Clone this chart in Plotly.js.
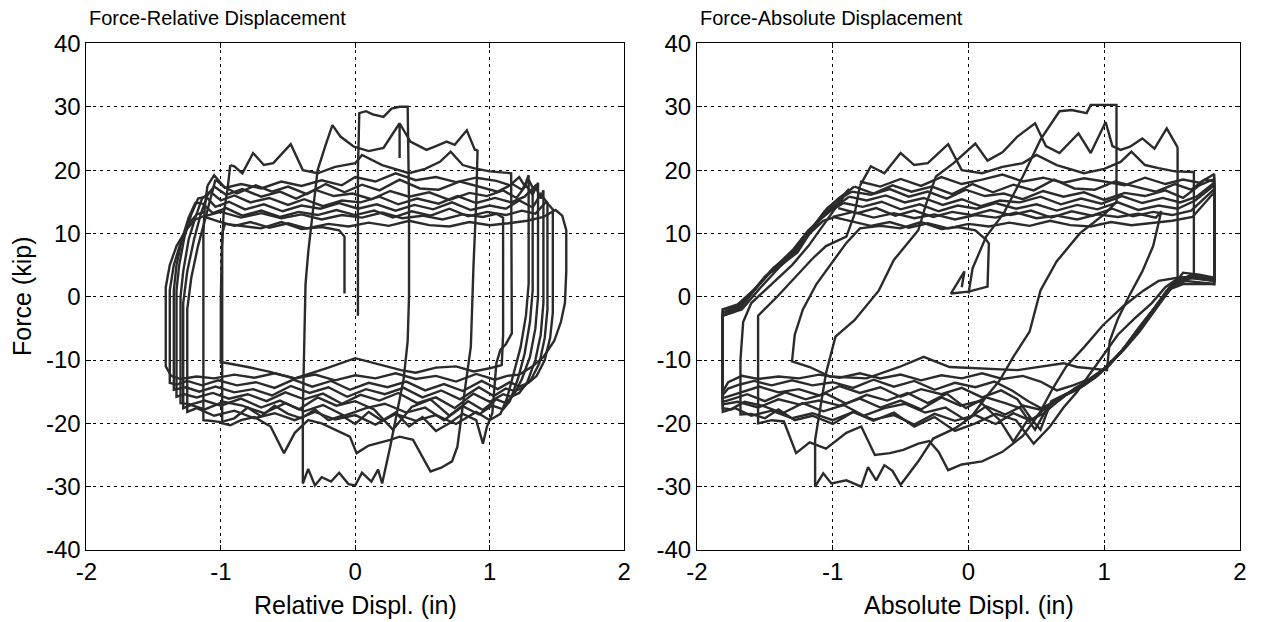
<!DOCTYPE html>
<html><head><meta charset="utf-8">
<script src="https://cdn.plot.ly/plotly-3.0.1.min.js"></script>
<style>html,body{margin:0;padding:0;background:#fff}#chart{width:1262px;height:622px}</style>
</head><body><div id="chart"></div><script>
// ---------- tick labels ----------
const xTickVals = [-2, -1, 0, 1, 2];
const xTickText = ['-2', '-1', '0', '1', '2'];
const yTickVals = [-40, -30, -20, -10, 0, 10, 20, 30, 40];
const yTickText = ['-40', '-30', '-20', '-10', '0', '10', '20', '30', '40'];

// ---------- Force vs Relative displacement (in, kip) ----------
const relD_a = [0.02,0.02,0.02,0.03,0.08,0.13,0.21,0.27,0.33,0.39,0.40,0.40,0.39,0.36,0.31,0.26,0.20,0.17,0.12,0.05,0.00,-0.05,-0.12,-0.18,-0.25,-0.30,-0.35,-0.39,-0.39,-0.38,-0.37,-0.35,-0.32,-0.28,-0.22,-0.17,-0.11,-0.01,0.10,0.21,0.33,0.33,0.33,0.41,0.53,0.60,0.68,0.74,0.83,0.89,0.91];
const relF_a = [-3,8,20,29,29.3,28.8,28.4,29.7,30,30,15,0,-7,-13,-18.4,-23.7,-29.5,-27.3,-29.2,-27.8,-29.8,-29.6,-27.8,-29.2,-28.5,-29.8,-27.2,-29.5,-18,-5,2,7,13,20,24,27.1,25.3,23.7,23,23.5,27.4,21.9,27.4,24.5,23.2,23.8,24.5,24,26.3,23.2,23.2];

const relD_b = [0.91,0.90,0.88,0.86,0.82,0.79,0.76,0.72,0.64,0.56,0.43,0.33,0.26,0.10,0.01,-0.04,-0.15,-0.25,-0.35,-0.45,-0.53,-0.63,-0.75,-0.85,-0.93,-0.99,-0.99,-0.99,-0.98,-0.95,-0.93];
const relF_b = [23.2,15,5,-7.9,-14,-19,-23.7,-26,-27,-27.6,-22.6,-22.1,-22.6,-23.5,-24.7,-22.1,-21,-20,-19.5,-21.5,-24.7,-20.5,-19,-19.5,-20.3,-20,-5,8,13,17,20.8];

const relD_c = [-0.93,-0.90,-0.84,-0.76,-0.68,-0.61,-0.48,-0.39,-0.28,-0.15,0.00,0.05,0.20,0.40,0.52,0.63,0.71,0.80,0.88,1.00,1.16,1.165,1.165,1.12,1.08,1.05,1.02,0.98,0.95,0.90,0.80,0.70,0.60,0.50,0.40,0.30,0.20,0.10,0.00,-0.10,-0.20,-0.30,-0.40,-0.50,-0.60,-0.70,-0.80,-0.90,-1.00,-1.08,-1.13,-1.13,-1.13,-1.12,-1.10];
const relF_c = [20.8,20.6,19.5,22.7,20.8,21.1,24.1,20,19.5,20.5,21.1,22.4,20.8,19.5,20.2,21.3,22.9,20.8,20.3,19.8,19.5,5,-5.8,-7.5,-8.4,-10.5,-18.4,-20.5,-23.2,-19.5,-18.5,-20,-21.2,-19,-20.5,-18.3,-19.6,-18.2,-20.1,-18.8,-19.5,-17.8,-19.2,-18.5,-17.2,-18.9,-17.5,-19.2,-19.8,-19.6,-19.5,0,10,14,17.5];

const relD_g1 = [-1.10,-1.05,-0.97,-0.85,-0.70,-0.55,-0.40,-0.25,-0.10,0.00,0.15,0.30,0.45,0.60,0.75,0.90,1.05,1.15,1.22,1.26,1.29,1.29,1.29,1.27,1.23,1.18,1.13,1.08,1.00,0.90,0.75,0.60,0.45,0.30,0.15,0.00,-0.15,-0.30,-0.45,-0.60,-0.75,-0.90,-1.05,-1.18,-1.25,-1.25,-1.25,-1.22,-1.17,-1.12,-1.08,-1.04];
const relF_g1 = [17.5,19.2,17.2,17.8,17.1,18.2,17.5,18.4,17.6,18.9,18.2,19.5,18.4,18.9,18.1,18.8,18.3,17.6,18.9,17.5,19.2,10,2,-3,-8,-12,-16,-18.5,-19.5,-18.2,-20.1,-18.7,-19.6,-18.5,-20.2,-18.7,-19.4,-18.2,-19.5,-18.4,-19.2,-18,-18.8,-17.6,-18.2,-10,-2,3,8,12,15.5,18.5];

const relD_g2 = [-1.04,-0.98,-0.88,-0.74,-0.62,-0.50,-0.36,-0.22,-0.08,0.05,0.18,0.33,0.48,0.62,0.78,0.92,1.06,1.17,1.24,1.29,1.32,1.32,1.32,1.30,1.26,1.21,1.15,1.10,1.02,0.92,0.80,0.66,0.52,0.38,0.22,0.08,-0.08,-0.24,-0.38,-0.52,-0.68,-0.84,-0.98,-1.12,-1.22,-1.28,-1.28,-1.28,-1.25,-1.20,-1.15,-1.10,-1.05];
const relF_g2 = [18.5,17.4,16.3,17.6,16.6,17.4,16.2,17.8,16.5,17.7,16.8,18.5,17.1,16.9,18.2,17.4,16.6,17.8,16.9,18.5,17.2,9,1,-4,-9,-13,-16.5,-17.8,-17.2,-18.6,-17.3,-19.5,-17.5,-18.3,-16.9,-17.6,-18.8,-17.1,-18.1,-16.8,-18.4,-17.2,-16.6,-17.8,-17.1,-17.6,-9,-1,4,9,13,16,17.4];

const relD_g3 = [-1.05,-0.96,-0.84,-0.70,-0.56,-0.44,-0.30,-0.16,-0.02,0.12,0.26,0.40,0.55,0.70,0.85,0.98,1.10,1.20,1.27,1.32,1.36,1.36,1.36,1.34,1.30,1.24,1.18,1.12,1.05,0.95,0.84,0.70,0.56,0.42,0.28,0.14,0.00,-0.14,-0.28,-0.42,-0.56,-0.70,-0.85,-1.00,-1.12,-1.22,-1.30,-1.30,-1.30,-1.28,-1.24,-1.19,-1.14,-1.08];
const relF_g3 = [17.4,16.1,17.0,15.8,16.6,15.5,16.9,15.9,16.3,15.4,16.7,15.8,16.5,15.3,16.4,15.9,16.8,15.6,17.6,16.1,18.0,8,0,-5,-9.5,-13,-15.5,-16.8,-16.2,-17.9,-16.5,-18.8,-16.2,-17.4,-21.0,-17.8,-16.5,-17.2,-15.9,-17.8,-16.4,-17.5,-16.1,-17.2,-16.4,-17.0,-16.8,-8,0,4,9,12.5,15.5,16.6];

const relD_g4 = [-1.08,-1.00,-0.90,-0.78,-0.64,-0.50,-0.38,-0.24,-0.10,0.04,0.18,0.32,0.46,0.62,0.76,0.90,1.04,1.16,1.26,1.34,1.38,1.40,1.40,1.40,1.38,1.34,1.28,1.22,1.16,1.10,1.00,0.88,0.74,0.60,0.46,0.32,0.18,0.04,-0.10,-0.24,-0.38,-0.52,-0.66,-0.80,-0.94,-1.06,-1.18,-1.27,-1.33,-1.33,-1.33,-1.31,-1.27,-1.22,-1.17,-1.11];
const relF_g4 = [16.6,15.2,16.0,14.9,15.6,14.5,15.4,14.3,15.2,14.9,15.8,14.6,15.5,14.7,15.9,14.8,15.6,14.9,15.8,17.5,15.5,16.8,7,-1,-6,-10,-13.5,-15.2,-15.8,-15.4,-16.6,-15.3,-17.6,-15.9,-16.8,-15.2,-16.4,-15.5,-16.9,-15.3,-16.2,-15.1,-16.5,-15.4,-16.1,-15.2,-15.9,-15.4,-15.8,-7,1,5,9.5,13,15.5,15.8];

const relD_g5 = [-1.11,-1.04,-0.94,-0.82,-0.68,-0.54,-0.40,-0.26,-0.12,0.02,0.16,0.30,0.44,0.58,0.72,0.86,1.00,1.12,1.22,1.32,1.38,1.43,1.43,1.43,1.41,1.37,1.31,1.25,1.19,1.12,1.03,0.92,0.78,0.64,0.50,0.36,0.22,0.08,-0.06,-0.20,-0.34,-0.48,-0.62,-0.76,-0.90,-1.04,-1.16,-1.26,-1.35,-1.35,-1.35,-1.33,-1.29,-1.24,-1.19,-1.14];
const relF_g5 = [15.8,14.2,15.0,13.8,14.6,13.5,14.4,13.9,14.8,13.9,14.6,13.6,14.5,13.8,14.9,13.7,14.4,13.9,15.2,14.1,16.2,14.8,6,-2,-6.5,-10.5,-13,-14.3,-14.9,-14.5,-15.7,-14.3,-16.2,-14.8,-15.9,-14.4,-15.4,-14.6,-15.8,-14.3,-15.2,-14.1,-15.6,-14.6,-15.1,-14.2,-15.0,-14.3,-14.7,-6,1,5,9,12.5,14.8,14.8];

const relD_g6 = [-1.14,-1.06,-0.96,-0.84,-0.70,-0.56,-0.42,-0.28,-0.14,0.00,0.14,0.28,0.42,0.56,0.70,0.84,0.98,1.12,1.24,1.34,1.42,1.47,1.47,1.47,1.45,1.41,1.35,1.29,1.22,1.15,1.06,0.94,0.80,0.66,0.52,0.38,0.24,0.10,-0.04,-0.18,-0.32,-0.46,-0.60,-0.74,-0.88,-1.02,-1.14,-1.25,-1.33,-1.38,-1.38,-1.38,-1.35,-1.30,-1.24,-1.18,-1.12];
const relF_g6 = [14.8,13.2,14.0,12.8,13.6,12.6,13.4,12.9,13.7,12.9,13.6,12.5,13.5,12.8,13.9,12.7,13.4,12.9,13.6,13.1,15.0,13.8,5,-2.5,-6.5,-10,-12.5,-13.6,-14.2,-13.5,-14.6,-13.3,-14.9,-13.8,-14.8,-13.4,-14.3,-13.6,-14.7,-13.3,-14.2,-13.1,-14.4,-13.5,-14.0,-13.2,-14.0,-13.3,-13.9,-13.6,-5,1,5,8.5,11.5,13,13.4];

const relD_g7 = [-1.12,-1.02,-0.90,-0.78,-0.64,-0.50,-0.36,-0.20,-0.05,0.10,0.25,0.40,0.55,0.70,0.85,1.00,1.14,1.28,1.40,1.49,1.54,1.57,1.57,1.56,1.53,1.48,1.40,1.32,1.22,1.13,1.04,0.90,0.75,0.60,0.45,0.30,0.15,0.00,-0.15,-0.30,-0.45,-0.60,-0.75,-0.90,-1.05,-1.18,-1.30,-1.37,-1.41,-1.41,-1.41,-1.38,-1.33,-1.26,-1.19,-1.14];
const relF_g7 = [12.6,11.9,11.2,11.8,10.9,11.6,10.8,11.5,11.1,11.7,11.2,12.0,11.3,11.1,11.8,11.3,11.6,12.0,12.6,13.7,12.8,10.5,4,-1,-4,-7,-9.5,-11,-12.3,-12.5,-13.1,-12.2,-13.4,-12.5,-13.0,-12.1,-12.9,-12.4,-13.2,-12.3,-12.9,-12.1,-12.8,-12.3,-12.9,-12.6,-13.0,-12.5,-11,-5,1.5,5,8,10.5,12.2,12.6];

const relD_f = [-1.14,-1.00,-0.85,-0.70,-0.55,-0.40,-0.25,-0.10,0.05,0.20,0.35,0.50,0.65,0.80,0.95,1.05,1.10,1.10,1.10,1.09,1.00,0.88,0.75,0.60,0.45,0.34,0.15,0.00,-0.20,-0.45,-0.65,-0.80,-0.98,-1.00,-1.00,-0.99,-0.97,-0.85,-0.70,-0.55,-0.40,-0.25,-0.12,-0.08,-0.08,-0.08];
const relF_f = [12.6,13.4,12.5,13.2,12.4,13.0,12.2,12.9,12.5,13.3,12.4,12.8,12.2,13.0,12.6,13.1,12.5,2,-6,-10.8,-11.3,-11.8,-11.0,-11.2,-12.0,-11.6,-10.5,-9.7,-11.2,-12.9,-11.8,-11.1,-10.4,-10.4,0,10,11.5,11.2,10.8,11.8,10.7,11,10.5,9.5,3,0.5];

// ---------- Force vs Absolute displacement (in, kip) ----------
const absD_a = [0.00,0.03,0.13,0.26,0.40,0.53,0.67,0.76,0.87,0.90,1.09,1.09,1.09,1.01,0.82,0.65,0.53,0.45,0.33,0.23,0.13,0.02,-0.10,-0.26,-0.37,-0.50,-0.56,-0.62,-0.68,-0.74,-0.79,-0.90,-1.01,-1.07,-1.13,-1.13,-1.05,-0.98,-0.84,-0.66,-0.55,-0.37,-0.31,-0.24,-0.11,0.05,0.14,0.25,0.36,0.49,0.57,0.67,0.81,0.90,1.01,1.06,1.12,1.19,1.28,1.37,1.46,1.54];
const absF_a = [0.5,4.5,9.5,13.2,19.0,24.8,29.3,29.5,29.0,30.3,30.3,22,15,13.2,10,5.6,1,-5.5,-9.5,-13.2,-15.8,-19,-20.8,-22.4,-26,-29.7,-27.5,-26.6,-29,-26.9,-30,-29,-29.5,-27.9,-30,-22.6,-12.1,-6.3,-3.7,1,5.8,10.5,14.8,19,21.1,24.2,21.5,22.8,25.3,27.4,23.8,22.7,25.8,22.7,27.6,23.8,23.2,23.7,25,23.4,26.6,23.6];

const absD_b = [1.54,1.54,1.54,1.40,1.29,1.14,0.99,0.85,0.72,0.62,0.52,0.40,0.25,0.10,-0.05,-0.15,-0.22,-0.29,-0.37,-0.48,-0.58,-0.69,-0.79,-0.90,-1.05,-1.17,-1.27,-1.36,-1.45,-1.55,-1.55,-1.55,-1.41,-1.30,-1.15,-1.05,-0.90,-0.84,-0.80];
const absF_b = [23.6,12,3,2.5,1,-1.5,-4.5,-8,-11,-14.5,-18.5,-22,-24.5,-26,-26.5,-27.4,-24.5,-22.8,-23.2,-24.2,-24.7,-25,-20.5,-21.5,-24,-23,-24.7,-19.7,-19.5,-20,-12,-3,0,2.5,6,8,9.5,13,17.5];

const absD_c = [-0.80,-0.72,-0.62,-0.50,-0.40,-0.30,-0.15,-0.05,0.10,0.25,0.40,0.50,0.65,0.85,1.00,1.12,1.20,1.30,1.40,1.52,1.66,1.66,1.66,1.55,1.45,1.35,1.22,1.10,1.00,0.90,0.80,0.70,0.60,0.48,0.35,0.20,0.05,-0.10,-0.25,-0.40,-0.55,-0.70,-0.85,-1.00,-1.15,-1.28,-1.40,-1.50,-1.60,-1.68,-1.68,-1.66,-1.60,-1.45,-1.30,-1.18,-1.08,-0.98,-0.88];
const absF_c = [17.5,20.6,19.5,22.7,20.8,21.1,24.1,20,19.5,20.5,21.1,22.4,20.8,19.5,20.2,21.3,22.9,20.8,20.3,19.8,19.7,12,3.2,3,1.5,-1,-3.5,-6,-9,-12,-15,-17.5,-20.5,-23.2,-19.5,-18.5,-20,-21.2,-19,-20.5,-18.3,-19.6,-18.2,-20.1,-18.8,-19.5,-17.8,-19.2,-18.5,-18.6,-10,-4,-1,2,5,8,11,14,17];

const absD_g1 = [-0.80,-0.65,-0.50,-0.35,-0.20,-0.05,0.10,0.25,0.40,0.55,0.70,0.85,1.00,1.15,1.30,1.45,1.58,1.70,1.78,1.81,1.81,1.81,1.70,1.58,1.48,1.38,1.26,1.14,1.02,0.90,0.78,0.66,0.55,0.45,0.33,0.20,0.05,-0.10,-0.25,-0.40,-0.55,-0.70,-0.85,-1.00,-1.15,-1.30,-1.45,-1.60,-1.72,-1.81,-1.81,-1.81,-1.73,-1.62,-1.50,-1.38,-1.26,-1.17,-1.08,-0.98,-0.88];
const absF_g1 = [18.2,17.4,18.6,17.5,18.9,17.8,18.5,19.3,18.2,18.8,18.0,18.7,18.2,17.6,18.8,17.8,18.5,18.0,19.0,19.4,10,3,3.5,3.8,1,-2,-5.5,-8.5,-11,-13,-14.5,-16.5,-18.5,-19.5,-18.4,-20.1,-18.7,-19.6,-18.5,-20.2,-18.7,-19.4,-18.2,-19.5,-18.4,-19.2,-18,-18.8,-17.6,-18.2,-10,-3,-2.4,0,3.2,5,7,10,12.5,14.5,17];

const absD_g2 = [-0.84,-0.70,-0.56,-0.42,-0.27,-0.12,0.03,0.18,0.33,0.48,0.63,0.78,0.93,1.08,1.23,1.38,1.52,1.64,1.74,1.81,1.81,1.81,1.68,1.56,1.46,1.35,1.23,1.11,0.99,0.87,0.75,0.63,0.52,0.40,0.27,0.13,-0.02,-0.17,-0.32,-0.47,-0.62,-0.77,-0.92,-1.07,-1.22,-1.37,-1.52,-1.65,-1.75,-1.81,-1.81,-1.81,-1.72,-1.60,-1.48,-1.36,-1.25,-1.15,-1.06,-0.96,-0.84];
const absF_g2 = [17.4,16.3,17.6,16.6,17.4,16.2,17.8,16.5,17.7,16.8,18.5,17.1,16.9,18.2,17.4,16.6,17.8,16.9,18.5,18.2,9,2.8,3.2,3,0.5,-2.5,-6,-9,-11.5,-13.5,-15,-16.6,-17.8,-17.2,-18.6,-17.3,-19.5,-17.5,-18.3,-16.9,-17.6,-18.8,-17.1,-18.1,-16.8,-18.4,-17.2,-16.6,-17.8,-17.6,-9,-2.5,-2,0.5,3.5,5.5,8,11,13.5,15.5,17.4];

const absD_g3 = [-0.86,-0.72,-0.58,-0.44,-0.30,-0.16,-0.02,0.12,0.26,0.40,0.55,0.70,0.85,1.00,1.15,1.30,1.45,1.58,1.70,1.81,1.81,1.81,1.66,1.54,1.44,1.33,1.21,1.09,0.97,0.85,0.73,0.61,0.53,0.45,0.33,0.23,0.08,-0.06,-0.20,-0.35,-0.50,-0.65,-0.80,-0.95,-1.10,-1.25,-1.40,-1.55,-1.70,-1.81,-1.81,-1.81,-1.71,-1.58,-1.46,-1.34,-1.23,-1.13,-1.04,-0.95,-0.86];
const absF_g3 = [16.6,16.1,17.0,15.8,16.6,15.5,16.9,15.9,16.3,15.4,16.7,15.8,16.5,15.3,16.4,15.9,16.8,15.6,17.6,18.6,8,2.5,3,2.5,0,-3,-6.5,-9.5,-12,-14,-15.2,-16.5,-21,-19,-22.9,-19.5,-16.5,-17.2,-15.9,-17.8,-16.4,-17.5,-16.1,-17.2,-16.4,-17.0,-16.2,-17.5,-16.6,-17.0,-8,-2,-1.6,1,4,6,9,11.5,14,15.5,16.6];

const absD_g4 = [-0.88,-0.75,-0.61,-0.47,-0.33,-0.19,-0.05,0.09,0.23,0.38,0.53,0.68,0.83,0.98,1.13,1.28,1.43,1.56,1.68,1.81,1.81,1.81,1.64,1.52,1.42,1.31,1.19,1.07,0.95,0.83,0.71,0.59,0.49,0.38,0.27,0.13,-0.02,-0.16,-0.30,-0.45,-0.60,-0.75,-0.90,-1.05,-1.20,-1.35,-1.50,-1.63,-1.73,-1.81,-1.81,-1.81,-1.70,-1.56,-1.44,-1.32,-1.21,-1.11,-1.02,-0.93,-0.88];
const absF_g4 = [15.8,15.2,16.0,14.9,15.6,14.5,15.4,14.3,15.2,14.9,15.8,14.6,15.5,14.7,15.9,14.8,15.6,14.9,15.8,18.0,7,2.5,3.5,2,-0.5,-3.5,-7,-10,-12.5,-14.3,-15.5,-17.2,-21,-17.6,-16.8,-15.9,-17.6,-15.3,-16.8,-15.2,-16.4,-15.5,-16.9,-15.3,-16.2,-15.1,-16.5,-15.4,-16.1,-16.6,-7,-2,-1.2,1.5,4.5,6.5,9.5,12,14,15,15.8];

const absD_g5 = [-0.92,-0.78,-0.64,-0.50,-0.36,-0.22,-0.08,0.06,0.20,0.35,0.50,0.65,0.80,0.95,1.10,1.25,1.40,1.54,1.67,1.81,1.81,1.81,1.62,1.50,1.40,1.29,1.17,1.05,0.93,0.81,0.69,0.57,0.47,0.36,0.24,0.10,-0.05,-0.20,-0.35,-0.50,-0.65,-0.80,-0.95,-1.10,-1.25,-1.40,-1.54,-1.66,-1.75,-1.81,-1.81,-1.81,-1.69,-1.55,-1.42,-1.30,-1.19,-1.09,-1.00,-0.92];
const absF_g5 = [14.8,14.2,15.0,13.8,14.6,13.5,14.4,13.9,14.8,13.9,14.6,13.6,14.5,13.8,14.9,13.7,14.4,13.9,15.2,17.6,6,2.5,3,2,-1,-4,-7.5,-10.5,-12.8,-14.5,-15.8,-17.5,-19.5,-16.2,-14.8,-15.9,-14.4,-15.4,-14.6,-15.8,-14.3,-15.2,-14.1,-15.6,-14.6,-15.1,-14.2,-15.0,-15.5,-16,-6,-2.5,-1.5,1.8,4.8,7,10,12.3,13.8,14.8];

const absD_g6 = [-0.96,-0.82,-0.68,-0.54,-0.40,-0.26,-0.12,0.02,0.16,0.31,0.46,0.61,0.76,0.91,1.06,1.21,1.36,1.50,1.64,1.81,1.81,1.81,1.60,1.48,1.38,1.27,1.15,1.03,0.91,0.79,0.67,0.55,0.44,0.32,0.19,0.05,-0.10,-0.25,-0.40,-0.55,-0.70,-0.85,-1.00,-1.15,-1.30,-1.45,-1.58,-1.69,-1.77,-1.81,-1.81,-1.81,-1.68,-1.54,-1.41,-1.29,-1.18,-1.08,-1.00];
const absF_g6 = [14.0,13.2,14.0,12.8,13.6,12.6,13.4,12.9,13.7,12.9,13.6,12.5,13.5,12.8,13.9,12.7,13.4,12.9,13.6,17.0,5,2,2.5,1.5,-1.5,-4.5,-8,-11,-13,-14.8,-16,-17.8,-16.5,-14.8,-13.4,-14.3,-13.6,-14.7,-13.3,-14.2,-13.1,-14.4,-13.5,-14.0,-13.2,-14.0,-13.3,-13.9,-14.5,-15.5,-5,-3,-1.8,2,5,7.5,10.5,12.5,14];

const absD_g7 = [-1.00,-0.86,-0.72,-0.58,-0.44,-0.30,-0.15,0.00,0.15,0.30,0.45,0.60,0.75,0.90,1.05,1.20,1.35,1.50,1.65,1.81,1.81,1.81,1.58,1.46,1.36,1.25,1.13,1.01,0.89,0.77,0.65,0.53,0.40,0.25,0.10,-0.05,-0.20,-0.35,-0.50,-0.65,-0.80,-0.95,-1.10,-1.25,-1.40,-1.55,-1.67,-1.77,-1.81,-1.81,-1.81,-1.67,-1.53,-1.40,-1.28,-1.17,-1.07,-0.98];
const absF_g7 = [12.6,11.9,11.2,11.8,10.9,11.6,10.8,11.5,11.1,11.7,11.2,12.0,11.3,11.1,11.8,11.3,11.6,12.0,12.6,16.5,4,2,2,1,-2,-5,-8.5,-11.2,-13,-14,-14.8,-13.4,-12.5,-13.0,-12.1,-12.9,-12.4,-13.2,-12.3,-12.9,-12.1,-12.8,-12.3,-12.9,-12.6,-13.0,-12.5,-13.5,-15,-8,-3,-2,1.5,4.5,7,10,12,12.6];

const absD_f = [-1.00,-0.85,-0.70,-0.55,-0.40,-0.25,-0.10,0.05,0.20,0.35,0.50,0.65,0.80,0.95,1.10,1.25,1.38,1.42,1.36,1.28,1.18,1.10,1.04,1.02,0.80,0.70,0.36,0.01,-0.14,-0.33,-0.51,-0.75,-1.02,-1.17,-1.30,-1.28,-1.22,-1.12,-1.00,-0.90,-0.80,-0.65,-0.50,-0.35,-0.20,-0.08,0.05,0.13,0.15,0.14,0.00,-0.13,-0.03,-0.05];
const absF_f = [12.6,13.4,12.5,13.2,12.4,13.0,12.2,12.9,12.5,13.3,12.4,12.8,12.2,13.0,12.6,13.1,12.5,13.5,8,4,0,-3.5,-7,-11.6,-11.1,-10.5,-11.6,-11.3,-11.1,-9.5,-11.1,-12.9,-12.6,-11.1,-10.2,-6,-2,2,5.5,8.5,10.8,11.2,10.8,11.8,10.7,11,10.5,9,8.4,1.6,0.8,0.5,4,1.5];

// ---------- build ----------
const relCycles = [[relD_a,relF_a],[relD_b,relF_b],[relD_c,relF_c],[relD_g1,relF_g1],[relD_g2,relF_g2],[relD_g3,relF_g3],[relD_g4,relF_g4],[relD_g5,relF_g5],[relD_g6,relF_g6],[relD_g7,relF_g7],[relD_f,relF_f]];
const absCycles = [[absD_a,absF_a],[absD_b,absF_b],[absD_c,absF_c],[absD_g1,absF_g1],[absD_g2,absF_g2],[absD_g3,absF_g3],[absD_g4,absF_g4],[absD_g5,absF_g5],[absD_g6,absF_g6],[absD_g7,absF_g7],[absD_f,absF_f]];

const lineStyle = {color: '#2b2b2b', width: 2.4};
const traces = [];
relCycles.forEach(([x, y]) => traces.push({x, y, type: 'scatter', mode: 'lines', line: lineStyle, xaxis: 'x', yaxis: 'y', hoverinfo: 'skip', showlegend: false}));
absCycles.forEach(([x, y]) => traces.push({x, y, type: 'scatter', mode: 'lines', line: lineStyle, xaxis: 'x2', yaxis: 'y2', hoverinfo: 'skip', showlegend: false}));

const FONT = 'Arial, "Liberation Sans", Helvetica, sans-serif';
function axis(extra) {
  return Object.assign({
    showgrid: true, gridcolor: '#000', gridwidth: 1, griddash: '3px,4px',
    showline: true, mirror: 'ticks', linecolor: '#000', linewidth: 1,
    ticks: 'inside', ticklen: 5, tickcolor: '#000', tickwidth: 1,
    zeroline: false, automargin: false, fixedrange: true,
    tickfont: {family: FONT, size: 24, color: '#000'}
  }, extra);
}
const yDom = [0.1158, 0.9301];
const layout = {
  width: 1262, height: 622,
  margin: {l: 0, r: 0, t: 0, b: 0},
  paper_bgcolor: '#fff', plot_bgcolor: '#fff',
  showlegend: false,
  xaxis: axis({domain: [0.0685, 0.4945], range: [-2, 2], tickvals: xTickVals, ticktext: xTickText, anchor: 'y'}),
  yaxis: axis({domain: yDom, range: [-40, 40], tickvals: yTickVals, ticktext: yTickText, anchor: 'x'}),
  xaxis2: axis({domain: [0.5523, 0.9826], range: [-2, 2], tickvals: xTickVals, ticktext: xTickText, anchor: 'y2'}),
  yaxis2: axis({domain: yDom, range: [-40, 40], tickvals: yTickVals, ticktext: yTickText, anchor: 'x2'}),
  annotations: [
    {text: 'Force-Relative Displacement', xref: 'paper', yref: 'paper', x: 87/1262, y: 1 - 18/622, xanchor: 'left', yanchor: 'middle', showarrow: false, font: {family: FONT, size: 20, color: '#000'}},
    {text: 'Force-Absolute Displacement', xref: 'paper', yref: 'paper', x: 698/1262, y: 1 - 18/622, xanchor: 'left', yanchor: 'middle', showarrow: false, font: {family: FONT, size: 20, color: '#000'}},
    {text: 'Relative Displ. (in)', xref: 'paper', yref: 'paper', x: 355/1262, y: 1 - 605/622, xanchor: 'center', yanchor: 'middle', showarrow: false, font: {family: FONT, size: 25, color: '#000'}},
    {text: 'Absolute Displ. (in)', xref: 'paper', yref: 'paper', x: 969/1262, y: 1 - 605/622, xanchor: 'center', yanchor: 'middle', showarrow: false, font: {family: FONT, size: 25, color: '#000'}},
    {text: 'Force (kip)', xref: 'paper', yref: 'paper', x: 22/1262, y: 1 - 297/622, xanchor: 'center', yanchor: 'middle', textangle: -90, showarrow: false, font: {family: FONT, size: 25, color: '#000'}}
  ]
};
Plotly.newPlot('chart', traces, layout, {staticPlot: true, displayModeBar: false});
</script></body></html>
